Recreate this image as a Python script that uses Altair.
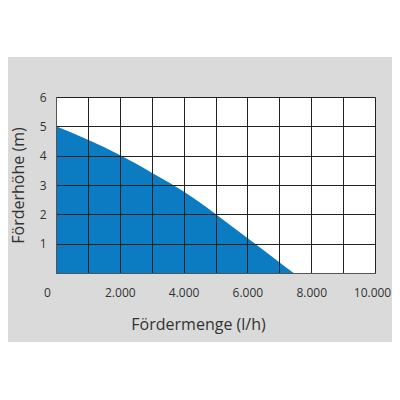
# Förderkennlinie einer Pumpe (Fördermenge gegen Förderhöhe)
import pandas as pd
import altair as alt

menge = [0, 1000, 2000, 3000, 3500, 4000, 4500, 5000, 6000, 7000, 7450]
hoehe = [5.0, 4.54, 4.02, 3.42, 3.11, 2.78, 2.41, 2.01, 1.19, 0.37, 0.0]

x_ticks = list(range(0, 10001, 1000))
y_ticks = [0, 1, 2, 3, 4, 5, 6]

df = pd.DataFrame({'menge': menge, 'hoehe': hoehe})
one = pd.DataFrame({'a': [0]})

W, H = 319, 176

# grauer Hintergrundstreifen und weisse Plotflaeche
band = alt.Chart(one).mark_rect(color='#dadada').encode(
    x=alt.value(-49), x2=alt.value(W + 17),
    y=alt.value(-40), y2=alt.value(245)
)
plot_bg = alt.Chart(one).mark_rect(color='white').encode(
    x=alt.value(0), x2=alt.value(W),
    y=alt.value(0), y2=alt.value(H)
)

area = alt.Chart(df).mark_area(color='#0b7bc2', interpolate='monotone').encode(
    x=alt.X('menge:Q', scale=alt.Scale(domain=[0, 10000], nice=False),
            axis=alt.Axis(title='Fördermenge (l/h)', values=x_ticks, zindex=1,
                          labelExpr="datum.value % 2000 == 0 ? replace(format(datum.value, ','), ',', '.') : ''",
                          labelOffset={'condition': [{'test': 'datum.value == 0', 'value': -9},
                                                     {'test': 'datum.value == 10000', 'value': -3}],
                                       'value': 0},
                          labelFlush=False, labelOverlap=False,
                          labelPadding=14, titleX=142, titleY=51,
                          titleBaseline='middle', titleAnchor='start', titleAlign='center')),
    y=alt.Y('hoehe:Q', scale=alt.Scale(domain=[0, 6], nice=False),
            axis=alt.Axis(title='Förderhöhe (m)', values=y_ticks, zindex=1,
                          labelExpr="datum.value == 0 ? '' : datum.label",
                          labelFlush=False,
                          labelPadding=10, titleX=-38, titleY=88,
                          titleBaseline='middle', titleAlign='center'))
)

chart = alt.layer(band, plot_bg, area).properties(
    width=W, height=H,
    autosize=alt.AutoSizeParams(type='none'),
    padding={'left': 48, 'top': 89, 'right': 17, 'bottom': 119},
    background='white'
).configure_view(
    stroke='#555', strokeWidth=1
).configure_axis(
    grid=True, gridColor='#222', gridWidth=1, gridOpacity=1,
    ticks=False, domain=True, domainColor='#555',
    labelFont='Open Sans', labelFontSize=12, labelColor='#333',
    titleFont='Open Sans', titleFontSize=16, titleFontWeight='normal', titleColor='#333'
)

chart.save("out.html", embed_options={"renderer": "svg", "actions": False})
